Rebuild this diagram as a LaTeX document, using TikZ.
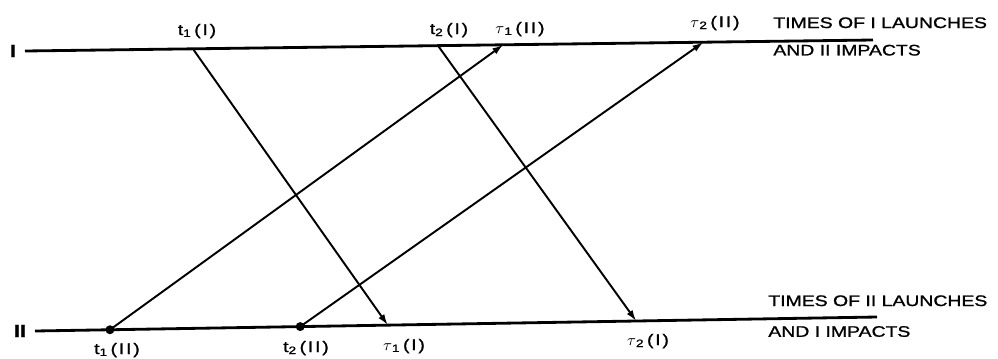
\documentclass[tikz,border=0pt]{standalone}
\usepackage{fontspec}
\setmainfont{Liberation Sans}[FakeStretch=1.27,FakeBold=1.2]
\usepackage{tikz}
\usetikzlibrary{arrows.meta,calc}
\newcommand{\evt}[3]{#1\textsubscript{#2}\,(#3)}

\begin{document}
\begin{tikzpicture}[x=0.2mm,y=-0.2mm,>={Latex[length=2.2mm,width=1.4mm]},
  axis/.style={line width=1.6pt},
  flight/.style={->,line width=1.1pt},
  lbl/.style={inner sep=0pt,anchor=base,font=\fontsize{8.7}{10}\selectfont\addfontfeature{LetterSpace=12}},
  side/.style={inner sep=0pt,font=\fontsize{10}{12}\selectfont\bfseries},
  note/.style={inner sep=0pt,anchor=north west,align=left}]
  \useasboundingbox (0,0) rectangle (998,358);
  % the two sides
  \coordinate (Ia) at (25,51);
  \coordinate (Ib) at (873,40);
  \coordinate (IIa) at (35,331);
  \coordinate (IIb) at (877,317);
  \draw[axis] (Ia)--(Ib);
  \draw[axis] (IIa)--(IIb);
  \node[side] (nameI) at (13,51) {I};
  \node[side] (nameII) at (20,331) {II};
  % launches of I, impacts on II
  \coordinate (tI1) at ($(Ia)!0.198!(Ib)$);
  \coordinate (tI2) at ($(Ia)!0.487!(Ib)$);
  \coordinate (uI1) at ($(IIa)!0.419!(IIb)$);
  \coordinate (uI2) at ($(IIa)!0.714!(IIb)$);
  % launches of II, impacts on I
  \coordinate (tII1) at ($(IIa)!0.089!(IIb)$);
  \coordinate (tII2) at ($(IIa)!0.315!(IIb)$);
  \coordinate (uII1) at ($(Ia)!0.564!(Ib)$);
  \coordinate (uII2) at ($(Ia)!0.800!(Ib)$);
  \draw[flight] (tI1)--(uI1);
  \draw[flight] (tI2)--(uI2);
  \draw[flight] (tII1)--(uII1);
  \draw[flight] (tII2)--(uII2);
  \fill (tII1) circle (0.9mm);
  \fill (tII2) circle (0.9mm);
  % event labels
  \node[lbl] (labtI1) at (197,35) {\evt{t}{1}{I}};
  \node[lbl] (labtI2) at (449,34) {\evt{t}{2}{I}};
  \node[lbl] (labuII1) at (520,33) {\evt{$\tau$}{1}{II}};
  \node[lbl] (labuII2) at (715,27) {\evt{$\tau$}{2}{II}};
  \node[lbl] (labtII1) at (117,354) {\evt{t}{1}{II}};
  \node[lbl] (labtII2) at (306,352) {\evt{t}{2}{II}};
  \node[lbl] (labuI1) at (404,350) {\evt{$\tau$}{1}{I}};
  \node[lbl] (labuI2) at (648,345) {\evt{$\tau$}{2}{I}};
  % side notes
  \node[note,font=\fontsize{8.7}{15.6}\selectfont] (noteI) at (773,17) {TIMES OF I LAUNCHES\\AND II IMPACTS};
  \node[note,font=\fontsize{8.7}{17.5}\selectfont] (noteII) at (768,295) {TIMES OF II LAUNCHES\\AND I IMPACTS};
\end{tikzpicture}
\end{document}
